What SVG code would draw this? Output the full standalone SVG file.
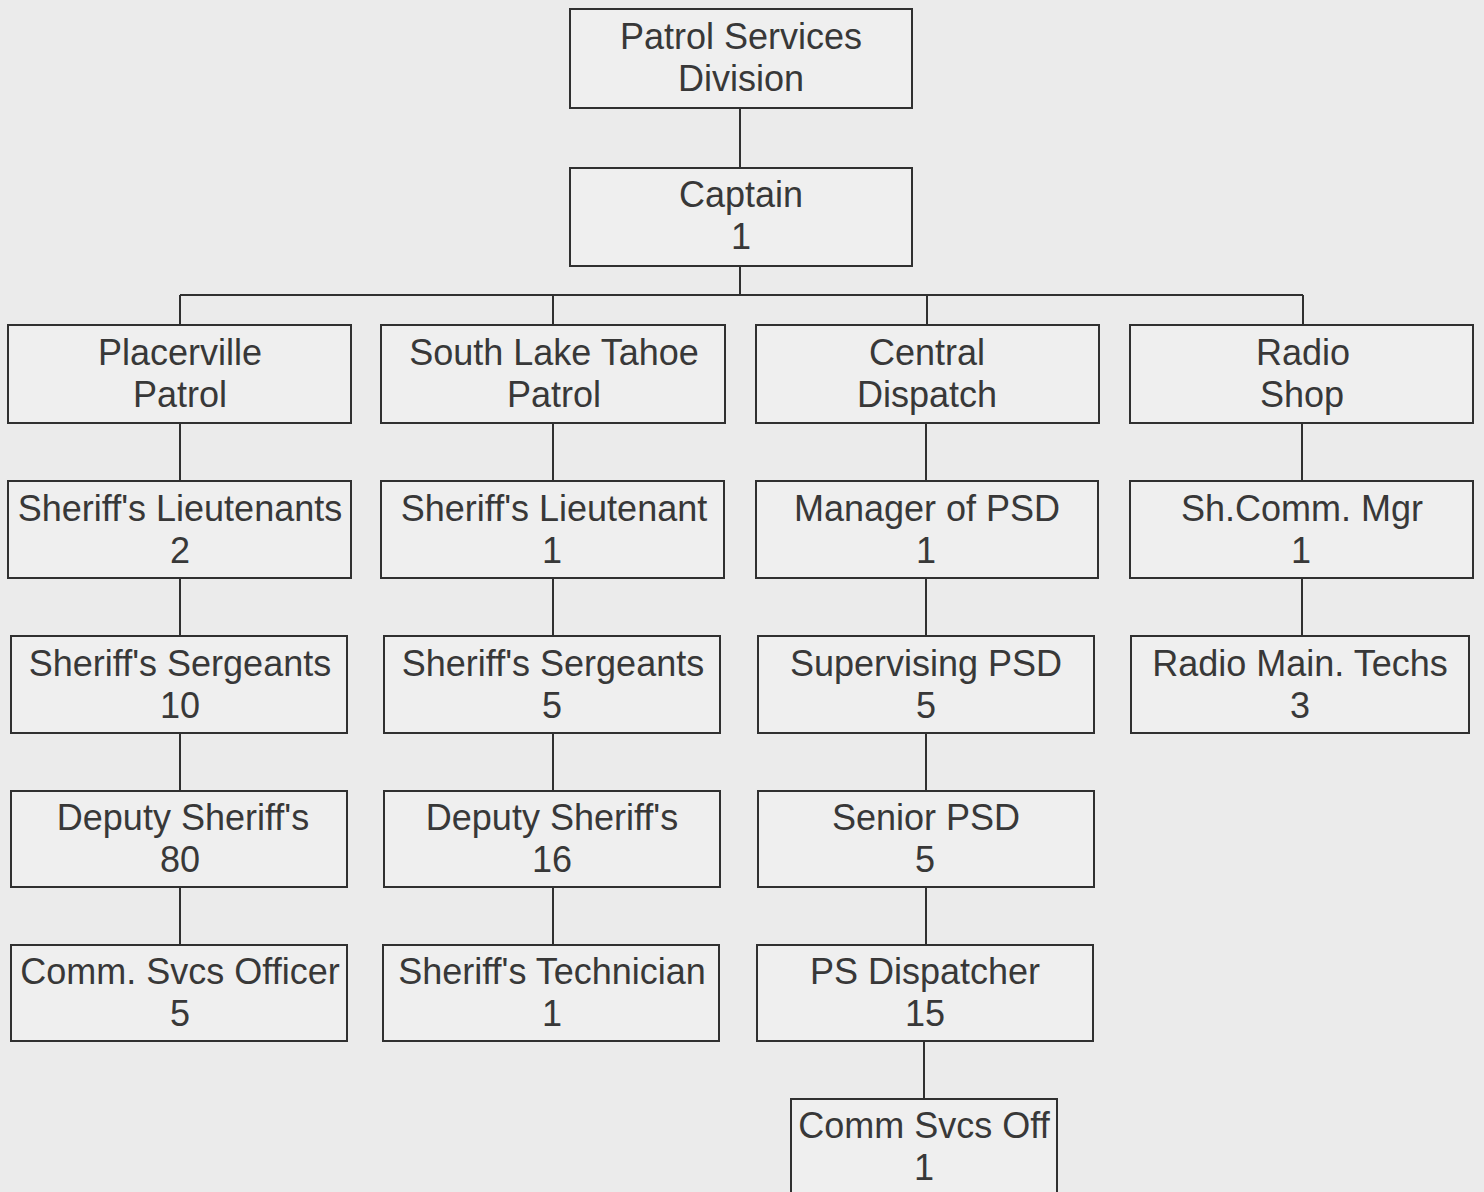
<svg xmlns="http://www.w3.org/2000/svg" width="1484" height="1192" viewBox="0 0 1484 1192">
  <style>
    .box { fill: #efefef; stroke: #303030; stroke-width: 2; }
    .lbl { font-family: "Liberation Sans", Arial, sans-serif; font-size: 36px; fill: #383838; text-anchor: middle; }
    .wire { fill: none; stroke: #303030; stroke-width: 2; }
  </style>
  <rect x="0" y="0" width="1484" height="1192" fill="#ebebeb"/>

  <!-- reporting lines -->
  <g id="connectors">
    <path class="wire" d="M740 108V168"/>
    <path class="wire" d="M740 266V295"/>
    <path class="wire" d="M180 295H1303"/>
    <path class="wire" d="M180 295V325M553 295V325M927 295V325M1303 295V325"/>
    <path class="wire" d="M180 423V481M180 578V636M180 733V791M180 887V945"/>
    <path class="wire" d="M553 423V481M553 578V636M553 733V791M553 887V945"/>
    <path class="wire" d="M926 423V481M926 578V636M926 733V791M926 887V945M924 1041V1099"/>
    <path class="wire" d="M1302 423V481M1302 578V636"/>
  </g>

  <g id="patrol-services-division">
    <rect class="box" x="570" y="9" width="342" height="99"/>
    <text class="lbl" x="741" y="49">Patrol Services</text>
    <text class="lbl" x="741" y="91">Division</text>
  </g>
  <g id="captain">
    <rect class="box" x="570" y="168" width="342" height="98"/>
    <text class="lbl" x="741" y="207">Captain</text>
    <text class="lbl" x="741" y="249">1</text>
  </g>

  <!-- Placerville column -->
  <g id="placerville-patrol">
    <rect class="box" x="8" y="325" width="343" height="98"/>
    <text class="lbl" x="180" y="365">Placerville</text>
    <text class="lbl" x="180" y="407">Patrol</text>
  </g>
  <g id="placerville-lieutenants">
    <rect class="box" x="8" y="481" width="343" height="97"/>
    <text class="lbl" x="180" y="521">Sheriff's Lieutenants</text>
    <text class="lbl" x="180" y="563">2</text>
  </g>
  <g id="placerville-sergeants">
    <rect class="box" x="11" y="636" width="336" height="97"/>
    <text class="lbl" x="180" y="676">Sheriff's Sergeants</text>
    <text class="lbl" x="180" y="718">10</text>
  </g>
  <g id="placerville-deputies">
    <rect class="box" x="11" y="791" width="336" height="96"/>
    <text class="lbl" x="183" y="830">Deputy Sheriff's</text>
    <text class="lbl" x="180" y="872">80</text>
  </g>
  <g id="placerville-cso">
    <rect class="box" x="11" y="945" width="336" height="96"/>
    <text class="lbl" x="180" y="984">Comm. Svcs Officer</text>
    <text class="lbl" x="180" y="1026">5</text>
  </g>

  <!-- South Lake Tahoe column -->
  <g id="south-lake-tahoe-patrol">
    <rect class="box" x="381" y="325" width="344" height="98"/>
    <text class="lbl" x="554" y="365">South Lake Tahoe</text>
    <text class="lbl" x="554" y="407">Patrol</text>
  </g>
  <g id="slt-lieutenant">
    <rect class="box" x="381" y="481" width="343" height="97"/>
    <text class="lbl" x="554" y="521">Sheriff's Lieutenant</text>
    <text class="lbl" x="552" y="563">1</text>
  </g>
  <g id="slt-sergeants">
    <rect class="box" x="384" y="636" width="336" height="97"/>
    <text class="lbl" x="553" y="676">Sheriff's Sergeants</text>
    <text class="lbl" x="552" y="718">5</text>
  </g>
  <g id="slt-deputies">
    <rect class="box" x="384" y="791" width="336" height="96"/>
    <text class="lbl" x="552" y="830">Deputy Sheriff's</text>
    <text class="lbl" x="552" y="872">16</text>
  </g>
  <g id="slt-technician">
    <rect class="box" x="383" y="945" width="336" height="96"/>
    <text class="lbl" x="552" y="984">Sheriff's Technician</text>
    <text class="lbl" x="552" y="1026">1</text>
  </g>

  <!-- Central Dispatch column -->
  <g id="central-dispatch">
    <rect class="box" x="756" y="325" width="343" height="98"/>
    <text class="lbl" x="927" y="365">Central</text>
    <text class="lbl" x="927" y="407">Dispatch</text>
  </g>
  <g id="manager-psd">
    <rect class="box" x="756" y="481" width="342" height="97"/>
    <text class="lbl" x="927" y="521">Manager of PSD</text>
    <text class="lbl" x="926" y="563">1</text>
  </g>
  <g id="supervising-psd">
    <rect class="box" x="758" y="636" width="336" height="97"/>
    <text class="lbl" x="926" y="676">Supervising PSD</text>
    <text class="lbl" x="926" y="718">5</text>
  </g>
  <g id="senior-psd">
    <rect class="box" x="758" y="791" width="336" height="96"/>
    <text class="lbl" x="926" y="830">Senior PSD</text>
    <text class="lbl" x="925" y="872">5</text>
  </g>
  <g id="ps-dispatcher">
    <rect class="box" x="757" y="945" width="336" height="96"/>
    <text class="lbl" x="925" y="984">PS Dispatcher</text>
    <text class="lbl" x="925" y="1026">15</text>
  </g>
  <g id="comm-svcs-off">
    <rect class="box" x="791" y="1099" width="266" height="110"/>
    <text class="lbl" x="924" y="1138">Comm Svcs Off</text>
    <text class="lbl" x="924" y="1180">1</text>
  </g>

  <!-- Radio Shop column -->
  <g id="radio-shop">
    <rect class="box" x="1130" y="325" width="343" height="98"/>
    <text class="lbl" x="1303" y="365">Radio</text>
    <text class="lbl" x="1302" y="407">Shop</text>
  </g>
  <g id="comm-manager">
    <rect class="box" x="1130" y="481" width="343" height="97"/>
    <text class="lbl" x="1302" y="521">Sh.Comm. Mgr</text>
    <text class="lbl" x="1301" y="563">1</text>
  </g>
  <g id="radio-techs">
    <rect class="box" x="1131" y="636" width="338" height="97"/>
    <text class="lbl" x="1300" y="676">Radio Main. Techs</text>
    <text class="lbl" x="1300" y="718">3</text>
  </g>
</svg>
